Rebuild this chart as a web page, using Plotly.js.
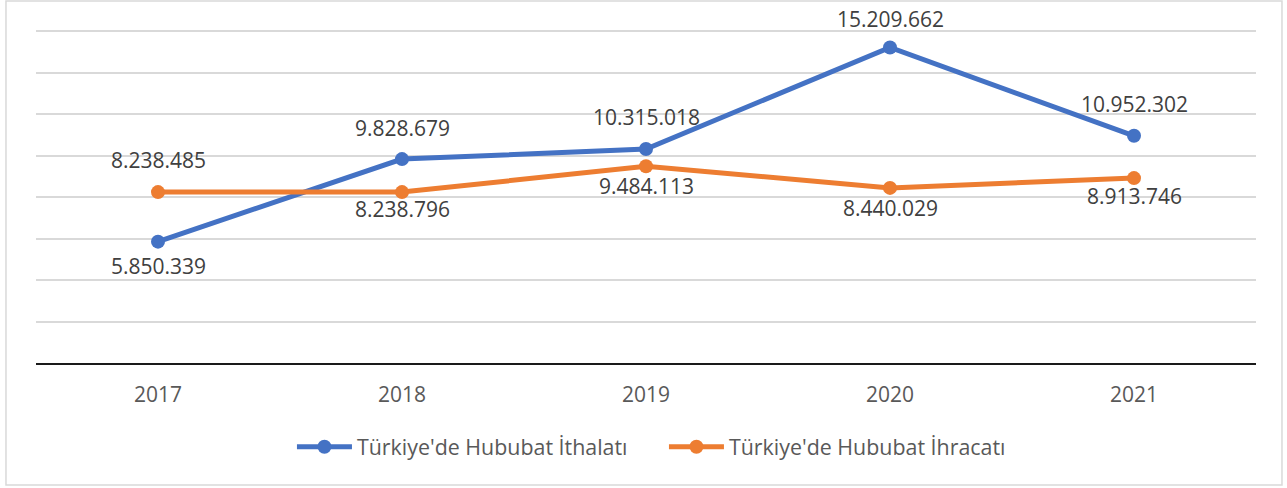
<!DOCTYPE html>
<html>
<head>
<meta charset="utf-8">
<script src="https://cdn.plot.ly/plotly-3.0.1.min.js"></script>
<style>html,body{margin:0;padding:0;background:#fff;}#chart{width:1287px;height:488px;}</style>
</head>
<body>
<div id="chart"></div>
<script>
const years = ['2017', '2018', '2019', '2020', '2021'];
const importName = "Türkiye'de Hububat İthalatı";
const exportName = "Türkiye'de Hububat İhracatı";
const importValues = [5850339, 9828679, 10315018, 15209662, 10952302];
const exportValues = [8238485, 8238796, 9484113, 8440029, 8913746];
const importLabelShift = [-24, 31, 32, 28, 32];
const exportLabelShift = [32, -17, -20, -20, -18];

function fmt(v) { return String(v).replace(/\B(?=(\d{3})+(?!\d))/g, '.'); }

const blue = '#4472C4', orange = '#ED7D31';
const font = 'Open Sans, Noto Sans, sans-serif';

const traces = [
  {x: years, y: importValues, name: importName, type: 'scatter', mode: 'lines+markers',
   line: {color: blue, width: 5}, marker: {color: blue, size: 14}},
  {x: years, y: exportValues, name: exportName, type: 'scatter', mode: 'lines+markers',
   line: {color: orange, width: 5}, marker: {color: orange, size: 14}}
];

const annotations = [];
for (let i = 0; i < years.length; i++) {
  annotations.push({xref: 'x', yref: 'y', x: i, y: importValues[i], text: fmt(importValues[i]),
    showarrow: false, yshift: importLabelShift[i], font: {family: font, size: 21, color: '#404040'}});
  annotations.push({xref: 'x', yref: 'y', x: i, y: exportValues[i], text: fmt(exportValues[i]),
    showarrow: false, yshift: exportLabelShift[i], font: {family: font, size: 21, color: '#404040'}});
}

const layout = {
  width: 1287, height: 488,
  margin: {l: 36, r: 31, t: 29, b: 125},
  paper_bgcolor: '#fff', plot_bgcolor: '#fff',
  font: {family: font, color: '#595959', size: 21},
  showlegend: true,
  legend: {orientation: 'h', x: 0.2098, xanchor: 'left', y: -0.251, yanchor: 'middle',
    font: {family: font, size: 21.4, color: '#595959'}, itemwidth: 55, entrywidth: 302,
    traceorder: 'normal'},
  xaxis: {type: 'category', range: [-0.5, 4.5], showgrid: false, showline: true,
    linecolor: '#1a1a1a', linewidth: 2, ticks: '', ticklabelstandoff: 12,
    tickfont: {family: font, size: 21, color: '#595959'}, fixedrange: true},
  yaxis: {range: [0, 16100000], dtick: 2000000, showgrid: true, gridcolor: '#d9d9d9',
    gridwidth: 1.5, showticklabels: false, zeroline: false, ticks: '', fixedrange: true},
  annotations: annotations,
  shapes: [{type: 'rect', xref: 'paper', yref: 'paper', x0: -0.0246, x1: 1.0213,
    y0: -0.3653, y1: 1.0838, line: {color: '#d9d9d9', width: 1.5}, fillcolor: 'rgba(0,0,0,0)', layer: 'below'}]
};

Plotly.newPlot('chart', traces, layout, {displayModeBar: false});
</script>
</body>
</html>
